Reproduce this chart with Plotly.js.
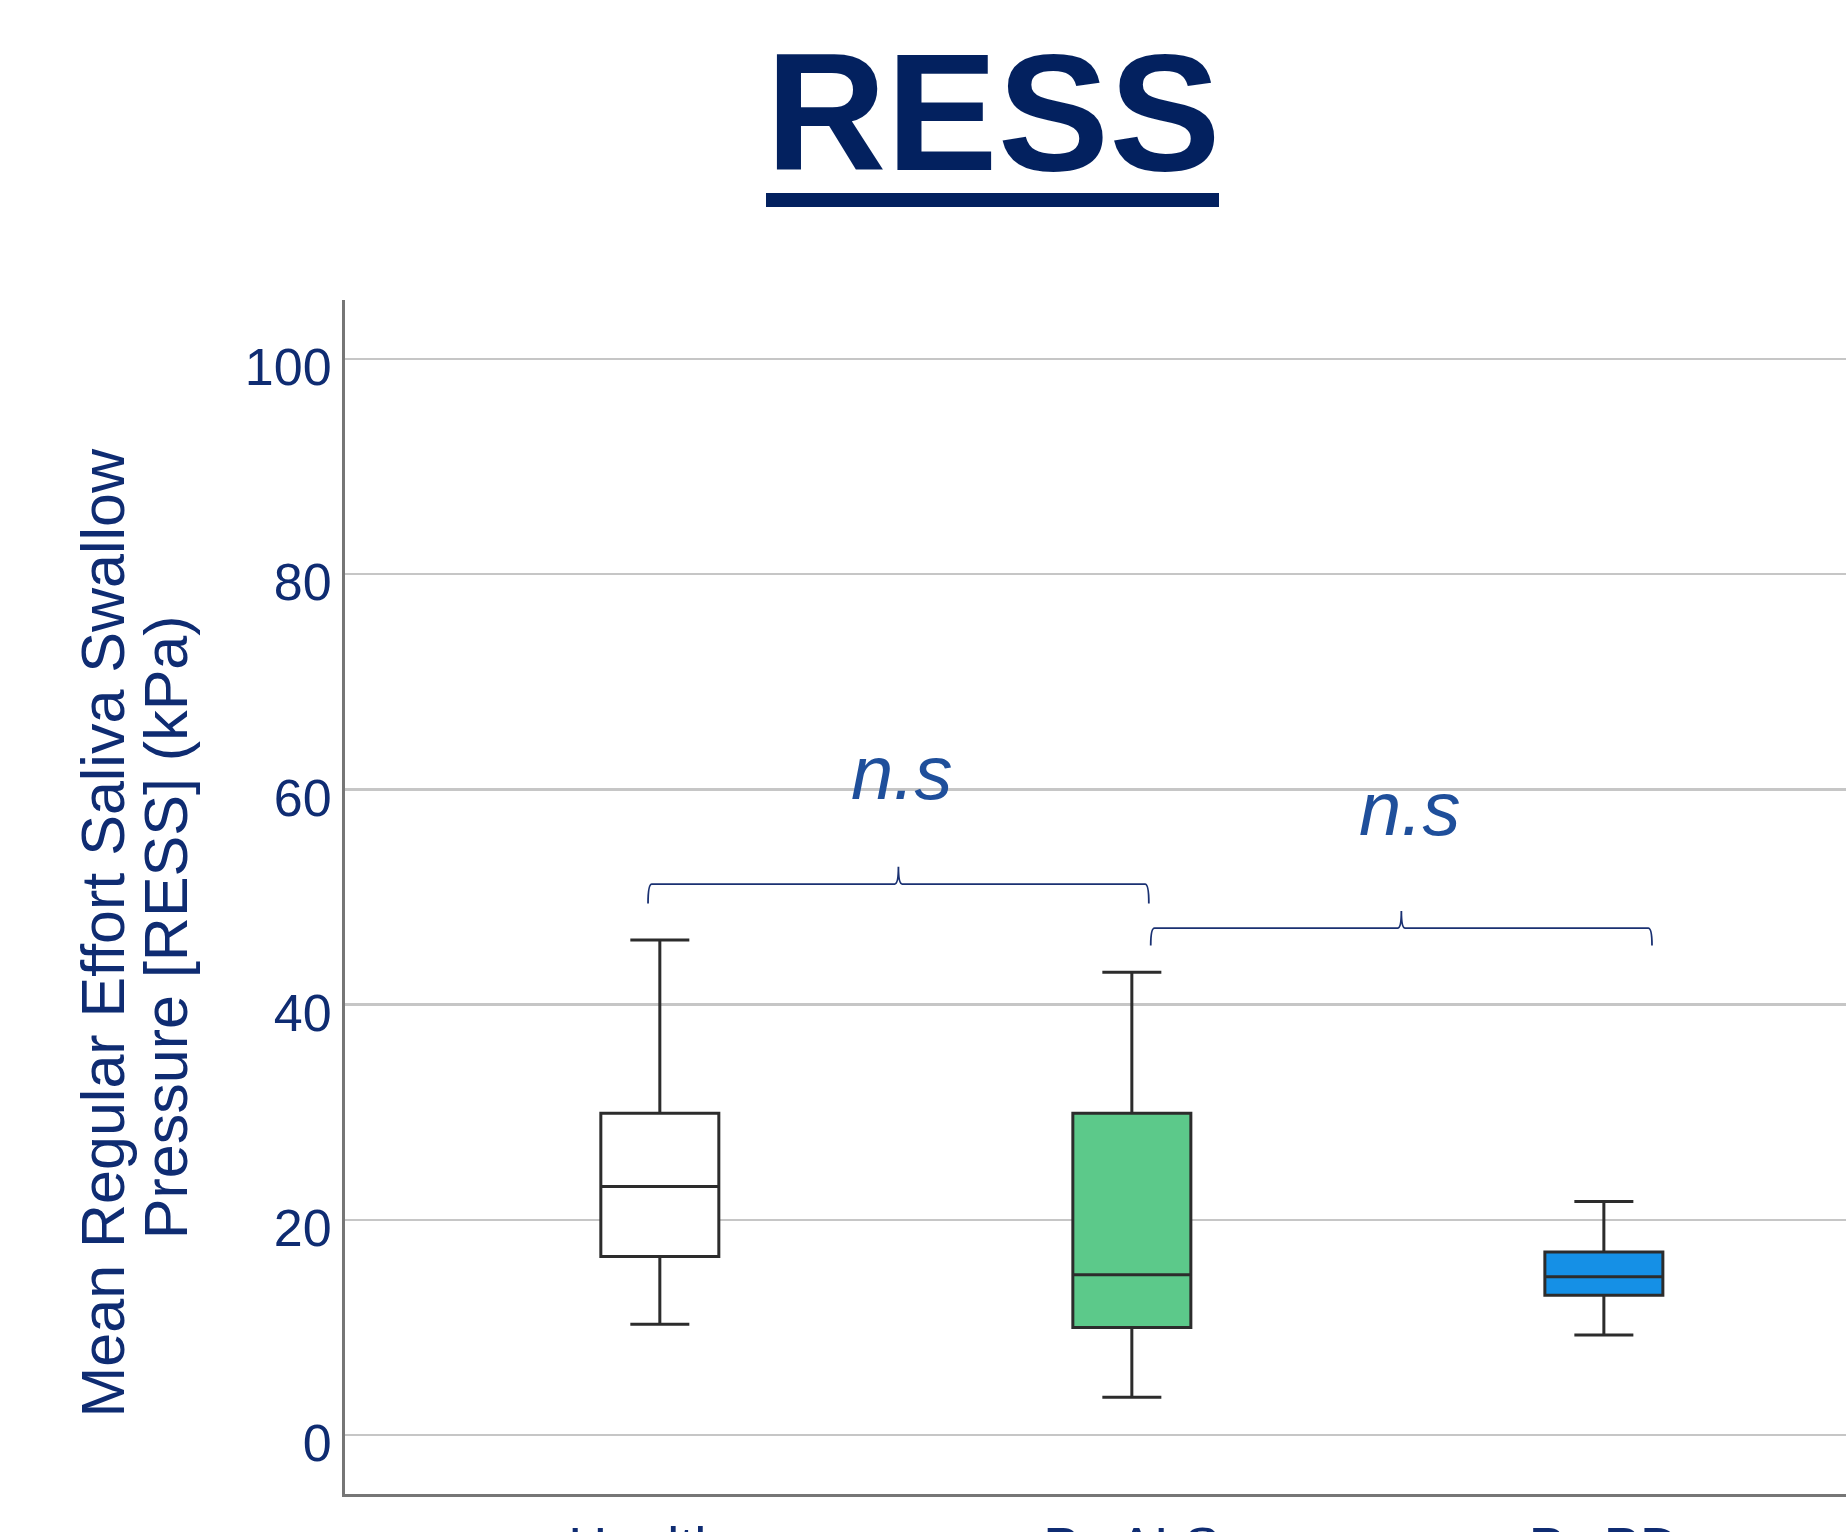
<!DOCTYPE html>
<html>
<head>
<meta charset="utf-8">
<script src="https://cdn.plot.ly/plotly-3.0.1.min.js"></script>
<style>
  html, body { margin: 0; padding: 0; background: #ffffff; overflow: hidden; }
  #chart { width: 1846px; height: 1600px; }
</style>
</head>
<body>
<div id="chart"></div>
<script>
// ---- data ----
var categories   = ['Healthy', 'PwALS', 'PwPD'];
var lowerWhisker = [10.3, 3.5, 9.3];
var q1Values     = [16.6, 10.0, 13.0];
var medianValues = [23.1, 14.9, 14.7];
var q3Values     = [29.9, 29.9, 17.0];
var upperWhisker = [46.0, 43.0, 21.7];
var yTickValues  = [0, 20, 40, 60, 80, 100];
var comparisonLabels = ['n.s', 'n.s'];
var comparisonPairs  = [[0, 1], [1, 2]];

// ---- styles ----
var boxFills = ['#ffffff', '#5cc98a', '#1590e6'];
var navy = '#0f2c72';
var titleColor = '#03215f';
var labelBlue = '#1f4f9b';
var fontFam = 'Liberation Sans, Arial, Helvetica, sans-serif';

var traces = categories.map(function (c, i) {
  return {
    type: 'box',
    name: c,
    x: [i],
    q1: [q1Values[i]],
    median: [medianValues[i]],
    q3: [q3Values[i]],
    lowerfence: [lowerWhisker[i]],
    upperfence: [upperWhisker[i]],
    width: 0.25,
    whiskerwidth: 0.5,
    fillcolor: boxFills[i],
    line: { color: '#2c2c2c', width: 3 },
    boxpoints: false,
    hoverinfo: 'skip',
    showlegend: false
  };
});

// bracket geometry (annotation layout, in axis units)
var bracketGeom = [
  { x0: -0.025, x1: 1.036, yLine: 51.2, yEnd: 49.4, yPeak: 52.8, xLabel: 0.512, yLabel: 61.6 },
  { x0: 1.040, x1: 2.102, yLine: 47.1, yEnd: 45.5, yPeak: 48.7, xLabel: 1.588, yLabel: 58.2 }
];

var shapes = [];
var annotations = [];
comparisonPairs.forEach(function (pair, k) {
  var g = bracketGeom[k];
  var xm = (g.x0 + g.x1) / 2;
  var dx = 0.008, dm = 0.008;
  var p = 'M ' + g.x0 + ',' + g.yEnd +
          ' Q ' + g.x0 + ',' + g.yLine + ' ' + (g.x0 + dx) + ',' + g.yLine +
          ' L ' + (xm - dm) + ',' + g.yLine +
          ' Q ' + xm + ',' + g.yLine + ' ' + xm + ',' + g.yPeak +
          ' Q ' + xm + ',' + g.yLine + ' ' + (xm + dm) + ',' + g.yLine +
          ' L ' + (g.x1 - dx) + ',' + g.yLine +
          ' Q ' + g.x1 + ',' + g.yLine + ' ' + g.x1 + ',' + g.yEnd;
  shapes.push({
    type: 'path', xref: 'x', yref: 'y', path: p,
    line: { color: '#1a3172', width: 1.8 }
  });
  annotations.push({
    xref: 'x', yref: 'y', x: g.xLabel, y: g.yLabel,
    text: '<i>' + comparisonLabels[k] + '</i>',
    showarrow: false, xanchor: 'center', yanchor: 'middle',
    font: { family: fontFam, size: 76, color: labelBlue }
  });
});

// title underline (decoration under the title text)
shapes.push({
  type: 'rect', xref: 'paper', yref: 'paper',
  x0: (766 - 345) / 1501, x1: (1219 - 345) / 1501,
  y0: (1494 - 207) / 1194, y1: (1494 - 193) / 1194,
  fillcolor: titleColor, line: { width: 0 }
});

// y axis title as two rotated lines
annotations.push({
  xref: 'paper', yref: 'y', x: 0, xshift: 103 - 345, y: 46.7,
  text: 'Mean Regular Effort Saliva Swallow', textangle: -90,
  showarrow: false, xanchor: 'center', yanchor: 'middle',
  font: { family: fontFam, size: 61, color: navy }
});
annotations.push({
  xref: 'paper', yref: 'y', x: 0, xshift: 166 - 345, y: 47.2,
  text: 'Pressure [RESS] (kPa)', textangle: -90,
  showarrow: false, xanchor: 'center', yanchor: 'middle',
  font: { family: fontFam, size: 61, color: navy }
});

var layout = {
  width: 1846,
  height: 1600,
  margin: { l: 345, r: 0, t: 300, b: 106 },
  paper_bgcolor: '#ffffff',
  plot_bgcolor: '#ffffff',
  boxmode: 'overlay',
  title: {
    text: '<b>RESS</b>',
    xref: 'container', yref: 'container',
    x: 0.538, xanchor: 'center',
    y: 1 - 112 / 1600, yanchor: 'middle',
    font: { family: fontFam, size: 167, color: titleColor }
  },
  xaxis: {
    type: 'linear',
    range: [-0.667, 2.513],
    tickvals: [0, 1, 2],
    ticktext: categories,
    showgrid: false,
    zeroline: false,
    showline: true,
    linecolor: '#767676',
    linewidth: 3,
    ticks: '',
    ticklabelstandoff: 3,
    tickfont: { family: fontFam, size: 54, color: navy },
    fixedrange: true
  },
  yaxis: {
    range: [-5.48, 105.48],
    tickvals: yTickValues,
    ticktext: yTickValues.map(String),
    showgrid: true,
    gridcolor: '#c6c6c6',
    gridwidth: 2.5,
    zeroline: false,
    showline: true,
    linecolor: '#767676',
    linewidth: 3,
    ticks: '',
    ticklabelshift: 8,
    tickfont: { family: fontFam, size: 52, color: navy },
    fixedrange: true
  },
  shapes: shapes,
  annotations: annotations
};

Plotly.newPlot('chart', traces, layout, { displayModeBar: false, staticPlot: true });
</script>
</body>
</html>
